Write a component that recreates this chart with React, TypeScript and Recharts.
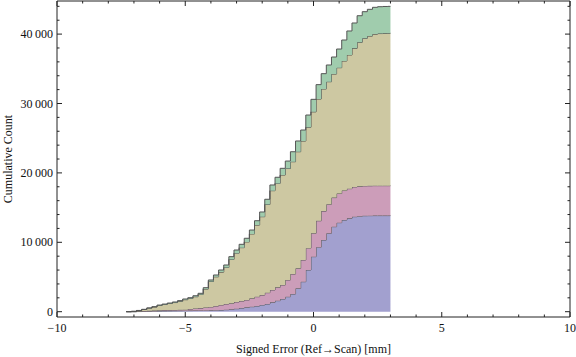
import { ComposedChart, Area, XAxis, YAxis } from 'recharts';

// bin left edges (mm), last entry is the right edge of the final bin
const binEdges = [
  -7.3, -7.1, -6.9, -6.7, -6.5, -6.3, -6.1, -5.9, -5.7, -5.5, -5.3, -5.1, -4.9, -4.7, -4.5, -4.3, -4.1,
  -3.9, -3.7, -3.5, -3.3, -3.1, -2.9, -2.7, -2.5, -2.3, -2.1, -1.9, -1.7, -1.5, -1.3, -1.1, -0.9, -0.7, -0.5,
  -0.3, -0.1, 0.1, 0.3, 0.5, 0.7, 0.9, 1.1, 1.3, 1.5, 1.7, 1.9, 2.1, 2.3, 2.5, 2.7, 2.9, 3.0,
];

// cumulative counts per bin, one array per stacked series (bottom to top)
const blueCounts = [
  0, 0, 20, 40, 60, 80, 100, 110, 120, 130, 140, 150, 160, 170, 180, 190, 200,
  220, 240, 290, 350, 430, 530, 630, 720, 820, 970, 1110, 1350, 1590, 1830, 2160, 2550, 3370, 4320,
  6010, 7930, 9300, 10330, 11300, 12250, 12830, 13210, 13450, 13690, 13760, 13830, 13840, 13850, 13850, 13850, 13850,
];
const pinkCounts = [
  0, 10, 40, 70, 90, 100, 110, 120, 120, 120, 130, 140, 230, 300, 340, 420, 490,
  600, 730, 820, 860, 970, 1010, 1060, 1210, 1340, 1430, 1630, 1780, 1920, 2020, 2410, 2880, 2880, 3130,
  3150, 3370, 3800, 4170, 4180, 4190, 4200, 4250, 4280, 4290, 4300, 4300, 4300, 4310, 4310, 4310, 4310,
];
const oliveCounts = [
  10, 40, 110, 210, 360, 500, 690, 810, 940, 1070, 1230, 1440, 1510, 1690, 1970, 2660, 3660,
  4210, 4740, 5270, 6320, 7040, 7690, 8370, 9280, 10330, 11290, 12710, 14310, 14980, 15850, 16060, 16180, 16800, 17150,
  17420, 17500, 17550, 17600, 17660, 17810, 18130, 18670, 19270, 19970, 20760, 21270, 21580, 21840, 21920, 21950, 21960,
];
const greenCounts = [
  0, 0, 10, 20, 30, 40, 50, 60, 70, 80, 90, 100, 120, 140, 160, 190, 220,
  260, 300, 350, 400, 450, 480, 520, 560, 620, 680, 750, 820, 880, 960, 1080, 1440, 1550, 1580,
  1760, 1800, 2070, 2200, 2410, 2450, 2690, 3020, 3450, 3650, 3830, 3830, 3850, 3860, 3870, 3870, 3880,
];

const xTicks = [-10, -9, -8, -7, -6, -5, -4, -3, -2, -1, 0, 1, 2, 3, 4, 5, 6, 7, 8, 9, 10];
const yTicks = [
  0, 2000, 4000, 6000, 8000, 10000, 12000, 14000, 16000, 18000, 20000, 22000,
  24000, 26000, 28000, 30000, 32000, 34000, 36000, 38000, 40000, 42000, 44000,
];

// step data: the closing edge repeats the last bin's counts
const data = binEdges.map((x, i) => {
  const j = Math.min(i, blueCounts.length - 1);
  return { x, blue: blueCounts[j], pink: pinkCounts[j], olive: oliveCounts[j], green: greenCounts[j] };
});

const FONT = '"Liberation Serif", "Times New Roman", serif';
const FRAME = '#222';

const fmtX = (v: number) => (v < 0 ? '\u2212' + Math.abs(v) : String(v));
const fmtY = (v: number) => String(v).replace(/\B(?=(\d{3})+(?!\d))/g, '\u2009');

const makeXTick = (side: 'bottom' | 'top') => (props: any) => {
  const { x, y, payload } = props;
  const v = payload.value;
  const major = v % 5 === 0;
  const len = major ? 5 : 2.5;
  const dir = side === 'bottom' ? -1 : 1;
  return (
    <g>
      <line x1={x} x2={x} y1={y} y2={y + dir * len} stroke={FRAME} strokeWidth={1} />
      {side === 'bottom' && major && (
        <text x={x} y={y + 11} dy="0.35em" textAnchor="middle" fontFamily={FONT} fontSize={12} fill="#111">
          {fmtX(v)}
        </text>
      )}
    </g>
  );
};

const makeYTick = (side: 'left' | 'right') => (props: any) => {
  const { x, y, payload } = props;
  const v = payload.value;
  const major = v % 10000 === 0;
  const len = major ? 5 : 2.5;
  const dir = side === 'left' ? 1 : -1;
  return (
    <g>
      <line x1={x} x2={x + dir * len} y1={y} y2={y} stroke={FRAME} strokeWidth={1} />
      {side === 'left' && major && (
        <text x={x - 4} y={y} dy="0.35em" textAnchor="end" fontFamily={FONT} fontSize={12} fill="#111">
          {fmtY(v)}
        </text>
      )}
    </g>
  );
};

const XTitle = (props: any) => {
  const { x, y, width } = props.viewBox;
  return (
    <text x={x + width / 2} y={y + 32} dy="0.35em" textAnchor="middle" fontFamily={FONT} fontSize={12} fill="#111">
      Signed Error (Ref→Scan) [mm]
    </text>
  );
};

const YTitle = (props: any) => {
  const { x, y, height } = props.viewBox;
  const cx = x + 8;
  const cy = y + height / 2;
  return (
    <text x={cx} y={cy} dy="0.35em" textAnchor="middle" transform={`rotate(-90 ${cx} ${cy})`}
      fontFamily={FONT} fontSize={12} fill="#111">
      Cumulative Count
    </text>
  );
};

const App = () => {
  return (
    <div style={{ position: 'absolute', left: 0, top: 0 }}>
      <ComposedChart width={576} height={357} data={data} margin={{ top: 0, right: 0, bottom: 0, left: 0 }}>
        <XAxis dataKey="x" type="number" domain={[-10, 10]} ticks={xTicks} interval={0} height={40}
          allowDataOverflow stroke={FRAME} tickSize={0} tickMargin={0} tick={makeXTick('bottom')}
          label={<XTitle />} />
        <XAxis xAxisId="top" dataKey="x" type="number" orientation="top" domain={[-10, 10]} ticks={xTicks}
          interval={0} height={1} allowDataOverflow stroke={FRAME} tickSize={0} tickMargin={0} tick={makeXTick('top')} />
        <YAxis type="number" domain={[-764, 44770]} ticks={yTicks} interval={0} width={57} allowDataOverflow
          stroke={FRAME} tickSize={0} tickMargin={0} tick={makeYTick('left')} label={<YTitle />} />
        <YAxis yAxisId="right" orientation="right" type="number" domain={[-764, 44770]} ticks={yTicks} interval={0}
          width={6} allowDataOverflow stroke={FRAME} tickSize={0} tickMargin={0} tick={makeYTick('right')} />
        <Area type="stepAfter" dataKey="blue" stackId="s" fill="#a2a0cf" fillOpacity={1} stroke="#555" strokeWidth={1} isAnimationActive={false} />
        <Area type="stepAfter" dataKey="pink" stackId="s" fill="#cc9db9" fillOpacity={1} stroke="#555" strokeWidth={1} isAnimationActive={false} />
        <Area type="stepAfter" dataKey="olive" stackId="s" fill="#cdc8a2" fillOpacity={1} stroke="#444" strokeWidth={1} isAnimationActive={false} />
        <Area type="stepAfter" dataKey="green" stackId="s" fill="#a0ccad" fillOpacity={1} stroke="#555" strokeWidth={1} isAnimationActive={false} />
      </ComposedChart>
    </div>
  );
};

export default App;
